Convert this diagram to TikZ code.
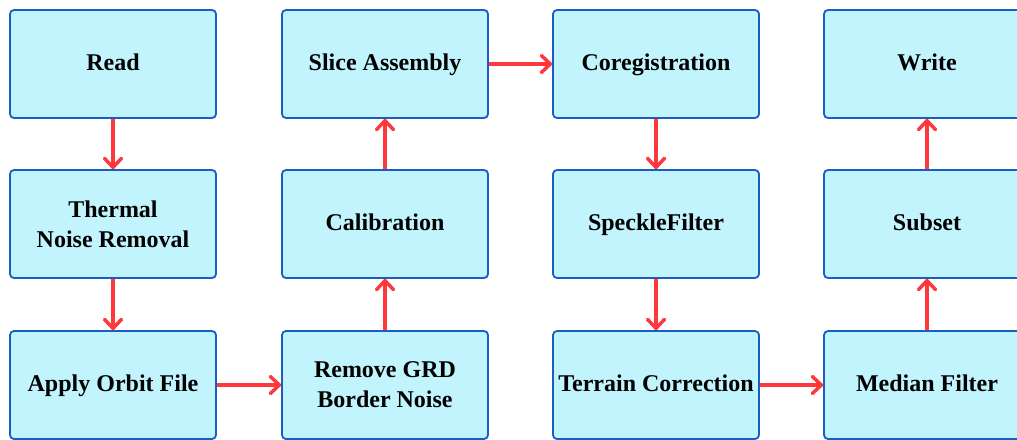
\documentclass[tikz,border=0pt]{standalone}
\usepackage{fontspec}
\setmainfont{Liberation Serif}
\usetikzlibrary{arrows.meta}
\definecolor{boxfill}{HTML}{C2F4FD}
\definecolor{boxline}{HTML}{1B5EC2}
\definecolor{arrred}{HTML}{FF383C}
\begin{document}
\begin{tikzpicture}[x=1pt,y=-1pt,
  stepbox/.style={draw=boxline, fill=boxfill, line width=1.8pt, rounded corners=4pt,
    minimum width=206pt, minimum height=108pt, align=center, inner sep=0pt,
    font=\fontsize{24}{30}\selectfont\bfseries},
  onebox/.style={stepbox, text height=17pt, text depth=5pt},
  flow/.style={draw=arrred, line width=3.5pt, -{Straight Barb[length=9pt,width=17pt,line cap=round,line join=round]}}]
\useasboundingbox (0,0) rectangle (1017,439);
\node[onebox] (read) at (113,64) {Read};
\node[stepbox] (thermal) at (113,224) {Thermal\\Noise Removal};
\node[onebox] (orbit) at (113,385) {Apply Orbit File};
\node[stepbox] (grd) at (385,385) {Remove GRD\\Border Noise};
\node[onebox] (calib) at (385,224) {Calibration};
\node[onebox] (slice) at (385,64) {Slice Assembly};
\node[onebox] (coreg) at (656,64) {Coregistration};
\node[onebox] (speckle) at (656,224) {SpeckleFilter};
\node[onebox] (terrain) at (656,385) {Terrain Correction};
\node[onebox] (median) at (927,385) {Median Filter};
\node[onebox] (subset) at (927,224) {Subset};
\node[onebox] (write) at (927,64) {Write};
\draw[flow] (read) -- (thermal);
\draw[flow] (thermal) -- (orbit);
\draw[flow] (orbit) -- (grd);
\draw[flow] (grd) -- (calib);
\draw[flow] (calib) -- (slice);
\draw[flow] (slice) -- (coreg);
\draw[flow] (coreg) -- (speckle);
\draw[flow] (speckle) -- (terrain);
\draw[flow] (terrain) -- (median);
\draw[flow] (median) -- (subset);
\draw[flow] (subset) -- (write);
\end{tikzpicture}
\end{document}
